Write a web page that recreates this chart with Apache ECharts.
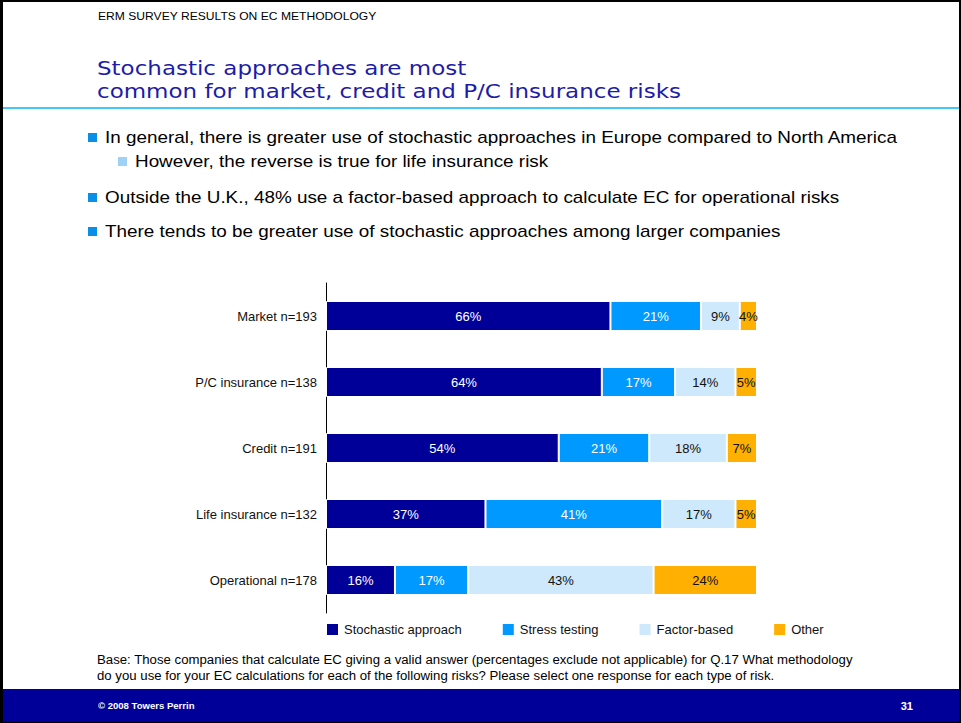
<!DOCTYPE html>
<html>
<head>
<meta charset="utf-8">
<script src="https://cdn.jsdelivr.net/npm/echarts@6/dist/echarts.min.js"></script>
<style>
  html, body { margin: 0; padding: 0; background: #fff; }
  #slide { position: relative; width: 961px; height: 723px; overflow: hidden; background: #fff;
           font-family: "Liberation Sans", Arial, sans-serif; color: #000; }
  #frame { position: absolute; left: 0; top: 0; width: 961px; height: 723px; box-sizing: border-box;
           border-left: 3px solid #000; border-top: 2px solid #000; border-right: 2px solid #000; border-bottom: 1px solid #000;
           pointer-events: none; z-index: 5; }
  .wide { display: inline-block; transform-origin: 0 50%; white-space: nowrap; }
  .kicker { position: absolute; left: 98px; top: 10px; font-size: 11px; }
  .kicker .wide { transform: scaleX(1.1); }
  .title { position: absolute; left: 97px; top: 57px; font-family: "DejaVu Sans", Verdana, sans-serif;
           font-size: 19px; line-height: 23px; color: #1c1ca8; }
  .title .wide { transform: scaleX(1.21); display: block; }
  .rule { position: absolute; left: 3px; right: 2px; top: 107px; height: 2px; background: #45c8f5; }
  .bullet { position: absolute; font-size: 17px; line-height: 20px; white-space: nowrap; }
  .bullet .wide { transform: scaleX(1.11); }
  .bullet::before { content: ""; position: absolute; left: -17px; top: 5px; width: 9px; height: 9px; background: #0a8fe8; }
  .bullet.sub::before { background: #9fd1f7; }
  .base { position: absolute; left: 97px; top: 652px; font-size: 12px; line-height: 16px; }
  .base .wide { transform: scaleX(1.1); display: block; }
  .footer { position: absolute; left: 3px; right: 2px; top: 689px; height: 33px; background: #000099; color: #fff;
            font-weight: bold; }
  .footer .copy { position: absolute; left: 95px; top: 12px; font-size: 9px; }
  .footer .copy .wide { transform: scaleX(1.06); }
  .footer .page { position: absolute; right: 46px; top: 11px; font-size: 11px; }
  #chart { position: absolute; left: 0; top: 260px; width: 961px; height: 390px; }
</style>
</head>
<body>
<div id="slide">
  <div class="kicker"><span class="wide">ERM SURVEY RESULTS ON EC METHODOLOGY</span></div>
  <div class="title"><span class="wide">Stochastic approaches are most</span><span class="wide">common for market, credit and P/C insurance risks</span></div>
  <div class="rule"></div>
  <div class="bullet" style="left:105px; top:128px;"><span class="wide">In general, there is greater use of stochastic approaches in Europe compared to North America</span></div>
  <div class="bullet sub" style="left:135px; top:152px;"><span class="wide">However, the reverse is true for life insurance risk</span></div>
  <div class="bullet" style="left:105px; top:188px;"><span class="wide">Outside the U.K., 48% use a factor-based approach to calculate EC for operational risks</span></div>
  <div class="bullet" style="left:105px; top:222px;"><span class="wide">There tends to be greater use of stochastic approaches among larger companies</span></div>
  <div id="chart"></div>
  <div class="base"><span class="wide">Base: Those companies that calculate EC giving a valid answer (percentages exclude not applicable) for Q.17 What methodology</span><span class="wide">do you use for your EC calculations for each of the following risks? Please select one response for each type of risk.</span></div>
  <div class="footer"><span class="copy"><span class="wide">© 2008 Towers Perrin</span></span><span class="page">31</span></div>
  <div id="frame"></div>
</div>
<script>
// Risk types, listed top to bottom
const categories = ['Market n=193', 'P/C insurance n=138', 'Credit n=191', 'Life insurance n=132', 'Operational n=178'];

// Share of respondents (%) per methodology
const stochastic   = [66, 64, 54, 37, 16];
const stressTest   = [21, 17, 21, 41, 17];
const factorBased  = [9, 14, 18, 17, 43];
const other        = [4, 5, 7, 5, 24];

const seriesNames  = ['Stochastic approach', 'Stress testing', 'Factor-based', 'Other'];
const seriesData   = [stochastic, stressTest, factorBased, other];
const seriesColors = ['#000099', '#0099ff', '#cde9fb', '#ffb000'];
const labelColors  = ['#ffffff', '#ffffff', '#111111', '#111111'];

const chart = echarts.init(document.getElementById('chart'), null, { renderer: 'svg' });

chart.setOption({
  animation: false,
  grid: { left: 326, top: 23, width: 431, height: 330 },
  legend: {
    left: 325, top: 362,
    padding: 0,
    itemWidth: 13, itemHeight: 13, itemGap: 39,
    icon: 'rect',
    textStyle: { fontFamily: 'Liberation Sans, Arial, sans-serif', fontSize: 13, color: '#111' },
    data: seriesNames
  },
  xAxis: {
    type: 'value', min: 0, max: 100, show: false
  },
  yAxis: {
    type: 'category',
    inverse: true,
    data: categories,
    axisLine: { show: true, lineStyle: { color: '#000', width: 1 } },
    axisTick: { show: false },
    axisLabel: { margin: 9, fontFamily: 'Liberation Sans, Arial, sans-serif', fontSize: 13, color: '#111' }
  },
  series: seriesNames.map((name, i) => ({
    name: name,
    type: 'bar',
    stack: 'total',
    barWidth: 30,
    data: seriesData[i],
    itemStyle: { color: seriesColors[i], borderColor: '#ffffff', borderWidth: 1 },
    label: {
      show: true,
      position: 'inside',
      formatter: p => p.value + '%',
      fontFamily: 'Liberation Sans, Arial, sans-serif',
      fontSize: 13,
      color: labelColors[i]
    }
  }))
});
</script>
</body>
</html>
